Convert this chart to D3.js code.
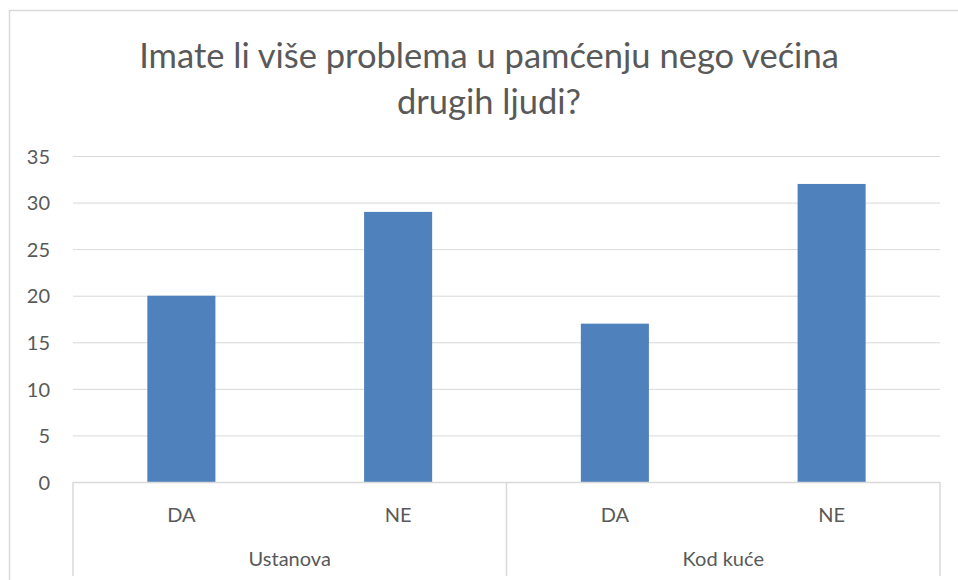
<!DOCTYPE html>
<html><head><meta charset="utf-8">
<script src="https://cdn.jsdelivr.net/npm/d3@7"></script>
<style>body{margin:0;background:#fff}svg{display:block}text{font-family:Lato,"Open Sans",sans-serif;fill:#595959}</style>
</head><body><svg id="c" width="958" height="580"></svg>
<script>
const titleLines = ["Imate li više problema u pamćenju nego većina", "drugih ljudi?"];
const groups = ["Ustanova", "Kod kuće"];
const answers = ["DA", "NE"];
const values = [20, 29, 17, 32];
const yTicks = [0, 5, 10, 15, 20, 25, 30, 35];

(function(){
const svg = d3.select("#c");
const pLeft = 73, pRight = 940, pTop = 156, pBottom = 482;
const cats = [];
groups.forEach(g => answers.forEach(a => cats.push({g, a, key: g + "|" + a})));
cats.forEach((c, i) => c.v = values[i]);

// outer border
svg.append("rect").attr("x", 9.5).attr("y", 10.5).attr("width", 1000).attr("height", 1000)
  .attr("fill", "none").attr("stroke", "#d9d9d9").attr("stroke-width", 1.5);

const x = d3.scaleBand().domain(cats.map(c => c.key)).range([pLeft, pRight]).paddingInner(0.686).paddingOuter(0.343);
const xo = d3.scaleBand().domain(cats.map(c => c.key)).range([pLeft, pRight]);
const y = d3.scaleLinear().domain([0, 35]).range([pBottom, pTop]);

// gridlines
svg.append("g").selectAll("line").data(yTicks.filter(t => t > 0)).join("line")
  .attr("x1", pLeft).attr("x2", pRight).attr("y1", d => y(d) + 0.5).attr("y2", d => y(d) + 0.5)
  .attr("stroke", "#d9d9d9").attr("stroke-width", 1);

// y axis labels
const yAxis = d3.axisLeft(y).tickValues(yTicks).tickSize(0).tickPadding(0);
const ya = svg.append("g").attr("transform", `translate(${pLeft - 23},0)`).call(yAxis);
ya.select(".domain").remove();
ya.selectAll("text").style("font-size", "20px").style("font-family", "Lato,'Open Sans',sans-serif").attr("fill", "#595959").attr("dy", "0.36em");

// bars
svg.append("g").selectAll("rect").data(cats).join("rect")
  .attr("x", d => x(d.key)).attr("width", x.bandwidth())
  .attr("y", d => y(d.v)).attr("height", d => y(0) - y(d.v))
  .attr("fill", "#4f81bd");

// category axis frame
const ax = svg.append("g").attr("stroke", "#d9d9d9").attr("stroke-width", 1.5);
ax.append("line").attr("x1", pLeft).attr("x2", pRight).attr("y1", pBottom + 0.5).attr("y2", pBottom + 0.5);
const gw = (pRight - pLeft) / groups.length;
d3.range(groups.length + 1).forEach(i => {
  ax.append("line").attr("x1", pLeft + i * gw).attr("x2", pLeft + i * gw).attr("y1", pBottom).attr("y2", 576);
});

// inner labels
svg.append("g").selectAll("text").data(cats).join("text")
  .attr("x", d => xo(d.key) + xo.bandwidth() / 2).attr("y", 522)
  .attr("text-anchor", "middle").style("font-size", "20px").text(d => d.a);

// group labels
svg.append("g").selectAll("text").data(groups).join("text")
  .attr("x", (d, i) => pLeft + gw * (i + 0.5)).attr("y", 566)
  .attr("text-anchor", "middle").style("font-size", "20px").text(d => d);

// title
svg.append("g").selectAll("text").data(titleLines).join("text")
  .attr("x", 489).attr("y", (d, i) => 68 + i * 46)
  .attr("text-anchor", "middle").style("font-size", "34.5px").text(d => d);
})();
</script></body></html>
